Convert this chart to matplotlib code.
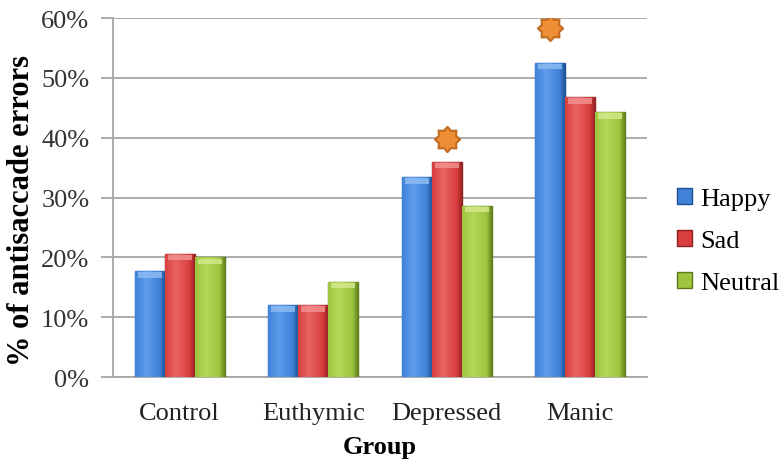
import numpy as np
import matplotlib.pyplot as plt
from matplotlib.patches import Patch
from matplotlib.path import Path
from matplotlib.colors import LinearSegmentedColormap

# antisaccade error rates per group and face emotion (percent)
groups = ['Control', 'Euthymic', 'Depressed', 'Manic']
emotions = ['Happy', 'Sad', 'Neutral']
happy = [17.7, 12.0, 33.4, 52.5]
sad = [20.6, 12.0, 36.0, 46.8]
neutral = [20.0, 15.9, 28.6, 44.3]
# significance markers: (group index, bar offset, height)
star_group = [2, 3]
star_offset = [0.0, -0.225]
star_y = [39.8, 58.3]

faces = ['#3F82D8', '#D83E3E', '#9DC53E']
lights = ['#5F9CEB', '#EA6464', '#B4D85A']
edges = ['#1E4F90', '#8E2020', '#5C7A1C']
caps = ['#8CBBF2', '#F29090', '#D2E88A']

plt.rcParams['font.family'] = ['Liberation Serif', 'DejaVu Serif']

fig = plt.figure(figsize=(7.84, 4.64), dpi=100)
ax = fig.add_axes([0.1441, 0.1853, 0.6812, 0.7737])

x = np.arange(len(groups))
w = 0.225
grad = np.linspace(0, 1, 64).reshape(1, -1)
for i, vals in enumerate([happy, sad, neutral]):
    pos = x + (i - 1) * w
    bars = ax.bar(pos, vals, w, color=faces[i], edgecolor=edges[i], linewidth=1.0, zorder=3)
    cmap = LinearSegmentedColormap.from_list(
        'b%d' % i, [(0, faces[i]), (0.35, lights[i]), (0.8, faces[i]), (1, edges[i])])
    for b in bars:
        bx, by = b.get_x(), b.get_y()
        im = ax.imshow(grad, cmap=cmap, aspect='auto', zorder=3.5,
                       extent=(bx, bx + b.get_width(), by, by + b.get_height()))
        im.set_clip_path(b)
    # lighter bevel along the top of each bar
    ax.bar(pos, [0.9] * len(vals), w * 0.8, bottom=np.array(vals) - 1.1,
           color=caps[i], linewidth=0, zorder=4, alpha=0.85)

# rounded eight-point star for the significance markers
ang = np.linspace(np.pi / 2, np.pi / 2 + 2 * np.pi, 17)
rad = np.where(np.arange(17) % 2 == 0, 1.0, 0.74)
verts = np.column_stack([rad * np.cos(ang), rad * np.sin(ang)])
star = Path(verts, closed=True)
ax.scatter(x[star_group] + np.array(star_offset), star_y, marker=star, s=330,
           color='#EE8F35', edgecolor='#C06A22', linewidth=1.5, zorder=5)

ax.set_xlim(-0.5, 3.5)
ax.set_ylim(0, 60)
ax.set_yticks(np.arange(0, 61, 10))
ax.set_yticklabels([f'{v}%' for v in range(0, 61, 10)], fontsize=19, color='#333333')
ax.set_xticks(x)
ax.set_xticklabels(groups, fontsize=19, color='#222222')
ax.tick_params(axis='y', length=9, color='#A6A6A6', width=1.3, pad=8)
ax.tick_params(axis='x', length=0, pad=18)
ax.yaxis.grid(True, color='#A6A6A6', linewidth=1.3, zorder=0)
ax.set_axisbelow(True)
for s in ['top', 'right']:
    ax.spines[s].set_visible(False)
ax.spines['left'].set_color('#A6A6A6')
ax.spines['left'].set_linewidth(1.3)
ax.spines['bottom'].set_color('#A6A6A6')
ax.spines['bottom'].set_linewidth(1.3)

ax.set_ylabel('% of antisaccade errors', fontsize=22, fontweight='bold', labelpad=4)
ax.yaxis.label.set_y(0.468)
ax.set_xlabel('Group', fontsize=19, fontweight='bold', labelpad=8)

handles = [Patch(facecolor=faces[i], edgecolor=edges[i]) for i in range(3)]
fig.legend(handles, emotions, loc='center left', bbox_to_anchor=(0.864, 0.478),
           frameon=False, fontsize=19, handlelength=0.55, handleheight=0.55,
           handletextpad=0.3, labelspacing=0.75, borderpad=0, borderaxespad=0)

fig.savefig('out.png', dpi=100)
